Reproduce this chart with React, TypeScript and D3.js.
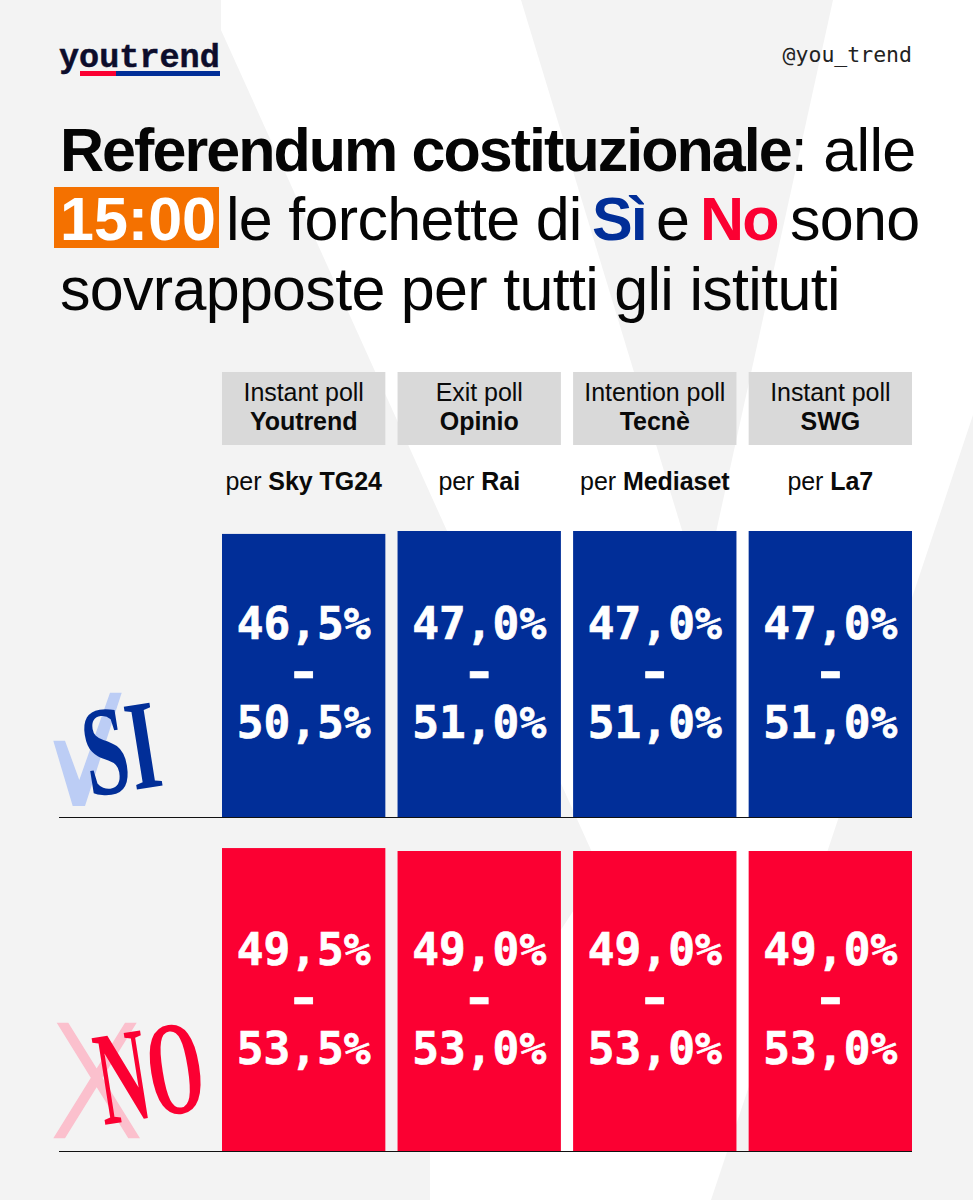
import { formatLocale, scaleBand, scaleLinear } from 'd3';

const pollTypes = ['Instant poll', 'Exit poll', 'Intention poll', 'Instant poll'];
const institutes = ['Youtrend', 'Opinio', 'Tecnè', 'SWG'];
const broadcasters = ['Sky TG24', 'Rai', 'Mediaset', 'La7'];
const siLow = [46.5, 47, 47, 47];
const siHigh = [50.5, 51, 51, 51];
const noLow = [49.5, 49, 49, 49];
const noHigh = [53.5, 53, 53, 53];

const BLUE = '#012e98';
const RED = '#fb0032';
const BG_GREY = '#f3f3f3';
const SANS = '"Liberation Sans", Arial, sans-serif';
const MONO = '"DejaVu Sans Mono", monospace';

const pct = formatLocale({
  decimal: ',',
  thousands: '.',
  grouping: [3],
  currency: ['', '€'],
}).format('.1f');

const xScale = scaleBand<number>()
  .domain([0, 1, 2, 3])
  .range([222, 912])
  .paddingInner(0.0695);

// the two rows have slightly different vertical scales in the original
const siScale = scaleLinear().domain([0, 49]).range([817, 531]);
const noScale = scaleLinear().domain([0, 51]).range([1151, 851]);

function RangeBars({ low, high, y, color, firstLine }: {
  low: number[];
  high: number[];
  y: (v: number) => number;
  color: string;
  firstLine: number;
}) {
  const base = y(0);
  return (
    <g>
      {low.map((lo, i) => {
        const mid = (lo + high[i]) / 2;
        const x = xScale(i) || 0;
        const cx = x + xScale.bandwidth() / 2;
        return (
          <g key={i}>
            <rect x={x} y={y(mid)} width={xScale.bandwidth()} height={base - y(mid)} fill={color} />
            <g
              fontFamily={MONO}
              fontWeight={700}
              fontSize={44.5}
              fill="#fff"
              stroke="#fff"
              strokeWidth={0.7}
              textAnchor="middle"
            >
              <text x={cx} y={firstLine}>{`${pct(lo)}%`}</text>
              <text transform={`translate(${cx},${firstLine + 49}) scale(1.3,1)`}>-</text>
              <text x={cx} y={firstLine + 99}>{`${pct(high[i])}%`}</text>
            </g>
          </g>
        );
      })}
      <line x1={59} x2={912} y1={base + 0.5} y2={base + 0.5} stroke="#111" strokeWidth={1.2} />
    </g>
  );
}

export default function App() {
  return (
    <svg
      width={973}
      height={1200}
      viewBox="0 0 973 1200"
      style={{ position: 'absolute', left: 0, top: 0, display: 'block' }}
    >
      <rect width={973} height={1200} fill="#fff" />
      {/* watermark V behind everything */}
      <path d="M0,0 L221,0 L221,30 L600,870 L430,1130 L430,1200 L0,1200 Z" fill={BG_GREY} />
      <path d="M521,0 L833,0 L702,596 Z" fill={BG_GREY} />
      <path d="M973,415 L711,1200 L973,1200 Z" fill={BG_GREY} />

      {/* logo */}
      <text
        x={59}
        y={67}
        fontFamily='"Liberation Mono", monospace'
        fontWeight={700}
        fontSize={33.5}
        fill="#0d0d2b"
        stroke="#0d0d2b"
        strokeWidth={0.5}
      >
        youtrend
      </text>
      <rect x={80} y={71} width={36} height={5} fill={RED} />
      <rect x={116} y={71} width={104} height={5} fill={BLUE} />
      <text x={912} y={62} textAnchor="end" fontFamily={MONO} fontSize={21.5} fill="#222">
        @you_trend
      </text>

      {/* title */}
      <g fontFamily={SANS} fontSize={61} fill="#050505" letterSpacing={-0.7}>
        <text x={60} y={171}>
          <tspan fontWeight={700} letterSpacing={-1.95}>Referendum costituzionale</tspan>
          <tspan>: alle</tspan>
        </text>
        <rect x={54} y={187} width={165} height={61} fill="#f47100" />
        <text x={60} y={240} fontWeight={700} fill="#fff" letterSpacing={0}>15:00</text>
        <text x={226} y={240}>le forchette di</text>
        <text x={592} y={240} fontWeight={700} fill={BLUE} letterSpacing={-1.9}>Sì</text>
        <text x={656} y={240}>e</text>
        <text x={700} y={240} fontWeight={700} fill={RED} letterSpacing={-1.9}>No</text>
        <text x={790} y={240}>sono</text>
        <text x={60} y={310}>sovrapposte per tutti gli istituti</text>
      </g>

      {/* column headers */}
      <g fontFamily={SANS} fontSize={25} fill="#0a0a0a" textAnchor="middle" letterSpacing={-0.05}>
        {institutes.map((name, i) => {
          const x = xScale(i) || 0;
          const cx = x + xScale.bandwidth() / 2;
          return (
            <g key={name}>
              <rect x={x} y={372} width={xScale.bandwidth()} height={73} fill="#d9d9d9" />
              <text x={cx} y={401}>{pollTypes[i]}</text>
              <text x={cx} y={430} fontWeight={700}>{name}</text>
              <text x={cx} y={490}>
                per <tspan fontWeight={700}>{broadcasters[i]}</tspan>
              </text>
            </g>
          );
        })}
      </g>

      {/* Sì tick mark + stamp */}
      <path
        d="M53.3,740.7 L65,740.7 L79.3,780 L110,692.7 L121.7,692.7 L85,806 L72.7,806 Z"
        fill="#bccdf5"
      />
      <text
        transform="translate(90,797) rotate(-9) scale(0.63,1)"
        fontFamily='"Liberation Serif", serif'
        fontWeight={700}
        fontSize={128}
        fill={BLUE}
      >
        SI
      </text>
      <RangeBars low={siLow} high={siHigh} y={siScale} color={BLUE} firstLine={639} />

      {/* No cross + stamp */}
      <path
        d="M56.7,1022.7 L68.3,1022.7 L140,1138.3 L128.3,1138.3 Z M125,1022.7 L136.7,1022.7 L65,1138.3 L53.3,1138.3 Z"
        fill="#fbc0cd"
      />
      <text
        transform="translate(104,1125) rotate(-9) scale(0.53,1)"
        fontFamily='"Liberation Serif", serif'
        fontSize={134}
        fontWeight={700}
        fill={RED}
      >
        NO
      </text>
      <RangeBars low={noLow} high={noHigh} y={noScale} color={RED} firstLine={965} />
    </svg>
  );
}
